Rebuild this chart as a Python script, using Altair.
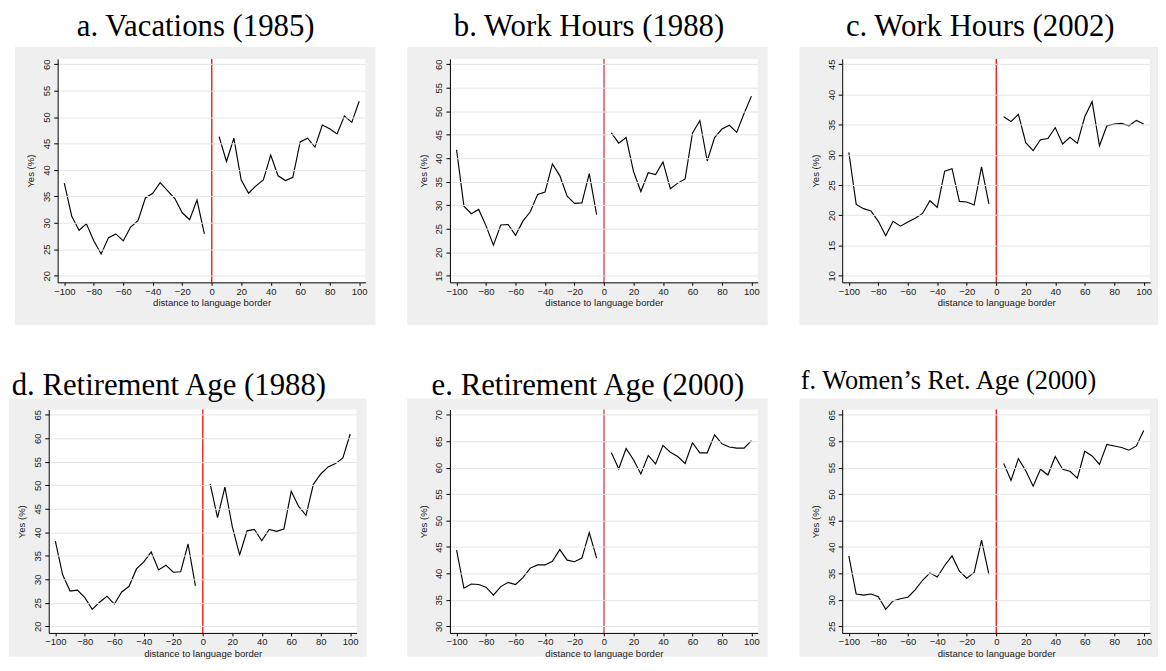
import altair as alt
import pandas as pd

# ---------------- data ----------------
DIST_LEFT = [-100, -95, -90, -85, -80, -75, -70, -65, -60, -55,
             -50, -45, -40, -35, -30, -25, -20, -15, -10, -5]
DIST_RIGHT = [5, 10, 15, 20, 25, 30, 35, 40, 45, 50,
              55, 60, 65, 70, 75, 80, 85, 90, 95, 100]
X_TICKS = [-100, -80, -60, -40, -20, 0, 20, 40, 60, 80, 100]

TITLES = ["a. Vacations (1985)", "b. Work Hours (1988)", "c. Work Hours (2002)",
          "d. Retirement Age (1988)", "e. Retirement Age (2000)", "f. Women\u2019s Ret. Age (2000)"]

A_LEFT = [37.5, 31.3, 28.6, 29.8, 26.6, 24.1, 27.2, 27.9, 26.6, 29.2,
          30.4, 34.7, 35.6, 37.6, 36.1, 34.6, 31.9, 30.6, 34.3, 27.9]
A_RIGHT = [46.3, 41.6, 46.0, 38.1, 35.6, 37.0, 38.1, 42.8, 38.9, 38.0,
           38.6, 45.3, 46.0, 44.3, 48.5, 47.8, 46.8, 50.2, 49.0, 53.0]
B_LEFT = [41.8, 29.8, 28.2, 29.1, 25.6, 21.5, 25.8, 25.9, 23.6, 26.6,
          28.6, 32.3, 32.8, 38.8, 36.3, 31.9, 30.4, 30.5, 36.7, 28.0]
B_RIGHT = [45.4, 43.2, 44.4, 37.2, 32.9, 36.9, 36.5, 39.2, 33.5, 34.7,
           35.6, 45.3, 48.0, 39.4, 44.4, 46.2, 47.0, 45.5, 49.5, 53.2]
C_LEFT = [30.4, 21.8, 21.1, 20.7, 19.0, 16.6, 19.0, 18.2, 18.9, 19.5,
          20.3, 22.4, 21.3, 27.3, 27.7, 22.3, 22.2, 21.7, 28.0, 21.9]
C_RIGHT = [36.3, 35.5, 36.7, 32.0, 30.7, 32.5, 32.7, 34.5, 31.8, 32.9,
           31.9, 36.3, 38.8, 31.5, 34.8, 35.1, 35.2, 34.8, 35.7, 35.1]
D_LEFT = [38.1, 30.9, 27.5, 27.7, 26.1, 23.6, 25.1, 26.4, 24.7, 27.3,
          28.5, 32.2, 33.7, 35.8, 32.0, 33.0, 31.5, 31.6, 37.5, 28.6]
D_RIGHT = [50.3, 43.1, 49.6, 41.2, 35.2, 40.3, 40.6, 38.2, 40.6, 40.2,
           40.7, 48.7, 45.5, 43.6, 50.2, 52.4, 53.9, 54.6, 55.8, 60.9]
E_LEFT = [44.4, 37.2, 38.0, 37.9, 37.4, 35.9, 37.5, 38.3, 37.9, 39.2,
          41.0, 41.6, 41.6, 42.3, 44.5, 42.5, 42.2, 42.9, 47.7, 42.9]
E_RIGHT = [62.8, 59.8, 63.6, 61.5, 58.8, 62.3, 60.7, 64.2, 62.9, 62.1,
           60.8, 64.7, 62.8, 62.8, 66.2, 64.5, 63.9, 63.7, 63.7, 65.1]
F_LEFT = [38.3, 31.1, 30.9, 31.1, 30.6, 28.2, 29.8, 30.2, 30.5, 31.9,
          33.7, 35.1, 34.3, 36.5, 38.3, 35.4, 34.1, 35.2, 41.3, 34.8]
F_RIGHT = [55.8, 52.6, 56.7, 54.4, 51.5, 54.7, 53.6, 57.1, 54.7, 54.3,
           53.0, 58.1, 57.2, 55.6, 59.4, 59.1, 58.8, 58.3, 59.1, 62.0]

Y_TICKS_A = [20, 25, 30, 35, 40, 45, 50, 55, 60]
Y_TICKS_B = [15, 20, 25, 30, 35, 40, 45, 50, 55, 60]
Y_TICKS_C = [10, 15, 20, 25, 30, 35, 40, 45]
Y_TICKS_D = [20, 25, 30, 35, 40, 45, 50, 55, 60, 65]
Y_TICKS_E = [30, 35, 40, 45, 50, 55, 60, 65, 70]
Y_TICKS_F = [25, 30, 35, 40, 45, 50, 55, 60, 65]

# ---------------- style ----------------
W, H = 310, 225
GREY = "#efefef"
INK = "#1a1a1a"
SANS = "Liberation Sans"
SERIF = "Liberation Serif"


def panel(title, left, right, yticks, rule_color, rule_width,
          tsize, tdx, ty, top_ext, ml, mr, mt, mb):
    df = pd.DataFrame({
        "dist": DIST_LEFT + DIST_RIGHT,
        "yes": left + right,
        "side": ["l"] * len(left) + ["r"] * len(right),
    })
    span = yticks[-1] - yticks[0]
    ydom = [yticks[0] - span * 6.7 / 213, yticks[-1] + span * 5.3 / 213]
    xs = alt.Scale(domain=[-104.5, 104.3], nice=False, zero=False)
    ys = alt.Scale(domain=ydom, nice=False, zero=False)
    common = dict(domainColor="black", domainWidth=1, tickColor="black", tickWidth=1,
                  labelFont=SANS, labelFontSize=9.5, labelColor=INK,
                  titleFont=SANS, titleFontSize=9.6, titleFontWeight="normal",
                  titleColor=INK, zindex=1)
    xaxis = alt.Axis(values=X_TICKS, title="distance to language border", grid=False,
                     tickSize=3, labelPadding=1, titlePadding=2, labelFlush=False, **common)
    yaxis = alt.Axis(values=yticks, title="Yes (%)", grid=True, gridColor="#e4e4e4",
                     gridWidth=1, tickSize=4, labelAngle=270, labelAlign="center",
                     labelBaseline="bottom", labelPadding=2, titlePadding=6, **common)
    xenc = alt.X("dist:Q", scale=xs, axis=xaxis)

    one = pd.DataFrame({"k": [0]})
    frame = alt.Chart(one).mark_rect(color="white").encode(
        x=alt.value(0), x2=alt.value(W), y=alt.value(-top_ext), y2=alt.value(-mt))
    bg = alt.Chart(one).mark_rect(color=GREY).encode(
        x=alt.value(-ml), x2=alt.value(W + mr), y=alt.value(-mt), y2=alt.value(H + mb))
    white = alt.Chart(one).mark_rect(color="white").encode(
        x=alt.value(0), x2=alt.value(W), y=alt.value(0), y2=alt.value(H))
    ttl = alt.Chart(one).mark_text(
        text=title, font=SERIF, fontSize=tsize, fontWeight="normal", color="black",
        align="center", baseline="alphabetic").encode(
        x=alt.value(W / 2 + tdx), y=alt.value(ty))
    rule = alt.Chart(pd.DataFrame({"dist": [0]})).mark_rule(
        color=rule_color, strokeWidth=rule_width).encode(x=xenc)
    line = alt.Chart(df).mark_line(color="black", strokeWidth=1.15).encode(
        x=xenc,
        y=alt.Y("yes:Q", scale=ys, axis=yaxis),
        detail="side:N",
    )
    return alt.layer(frame, bg, white, ttl, rule, line).properties(width=W, height=H)


RED = "#f01c1c"
DRED = "#c40000"

# row 1: plot top at page y=57, title baseline at y=35
pa = panel(TITLES[0], A_LEFT, A_RIGHT, Y_TICKS_A, RED, 1.4, 31, -16, -23, 49, 43, 10, 12, 43)
pb = panel(TITLES[1], B_LEFT, B_RIGHT, Y_TICKS_B, DRED, 1.0, 31, -15, -23, 49, 43, 10, 12, 43)
pc = panel(TITLES[2], C_LEFT, C_RIGHT, Y_TICKS_C, RED, 1.4, 31, -16, -23, 49, 43, 8, 12, 43)
# row 2: plot top at page y=408
pd_ = panel(TITLES[3], D_LEFT, D_RIGHT, Y_TICKS_D, RED, 1.4, 31, -34, -15, 40, 40, 10, 11, 24)
pe = panel(TITLES[4], E_LEFT, E_RIGHT, Y_TICKS_E, DRED, 1.0, 31, -16, -15, 40, 43, 10, 11, 24)
pf = panel(TITLES[5], F_LEFT, F_RIGHT, Y_TICKS_F, RED, 1.4, 26.5, -48, -21, 40, 43, 8, 11, 24)


def spacer():
    return alt.Chart(pd.DataFrame({"k": [0]})).mark_rect(color="white").encode(
        x=alt.value(0), x2=alt.value(1), y=alt.value(0), y2=alt.value(1)
    ).properties(width=1, height=1)


row1 = alt.hconcat(spacer(), alt.hconcat(pa, pb, pc, spacing=32), spacing=6)
row2 = alt.hconcat(spacer(), alt.hconcat(pd_, alt.hconcat(pe, pf, spacing=32), spacing=41),
                   spacing=0)

chart = alt.vconcat(row1, row2, spacing=43).properties(
    padding={"left": 0, "top": 0, "right": 0, "bottom": 0},
    background="white",
).configure_view(strokeWidth=0)

chart.save("out.html", embed_options={"renderer": "svg", "actions": False})
